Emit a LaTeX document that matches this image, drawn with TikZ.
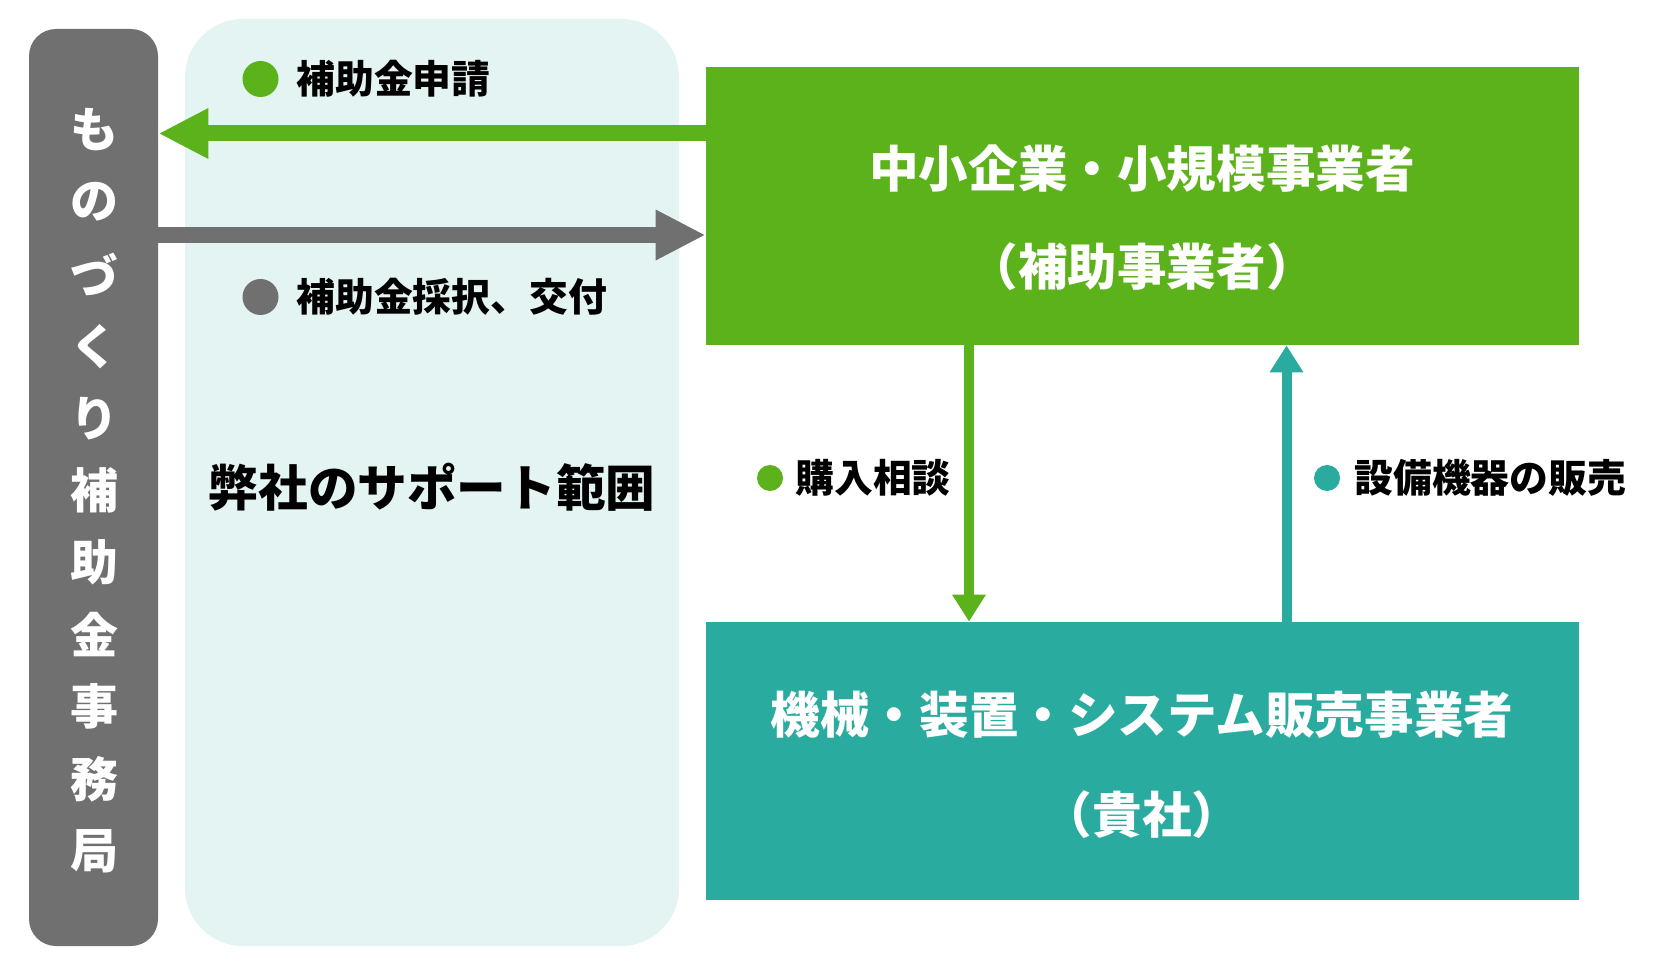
\documentclass[tikz,border=0pt]{standalone}
\usepackage{fontspec}
\setmainfont{Noto Sans CJK JP}
\usepackage{xcolor}
\usepackage{tikz}
\usetikzlibrary{positioning,arrows.meta}
\definecolor{subgreen}{RGB}{92, 178, 26}
\definecolor{sellteal}{RGB}{42, 171, 159}
\definecolor{officegray}{RGB}{112, 112, 112}
\definecolor{supportbg}{RGB}{228, 244, 243}

\begin{document}
\begin{tikzpicture}[x=0.5pt, y=-0.5pt, font=\bfseries,
  bigtext/.style={font=\fontsize{24.8pt}{30pt}\selectfont\bfseries},
  smalltext/.style={font=\fontsize{19.4pt}{24pt}\selectfont\bfseries, anchor=west, inner sep=0pt}]
\useasboundingbox[fill=white] (0,0) rectangle (1674,967);

\node[fill=supportbg, rounded corners=29pt, minimum width=247pt, minimum height=463.5pt, inner sep=0pt] (support) at (432,482.5) {};
\node[fill=officegray, rounded corners=13.5pt, minimum width=64.5pt, minimum height=458.5pt, inner sep=0pt] (office) at (93.5,487.5) {};
\node[fill=subgreen, minimum width=436.5pt, minimum height=139pt, inner sep=0pt] (grn) at (1142.5,206) {};
\node[fill=sellteal, minimum width=436.5pt, minimum height=139pt, inner sep=0pt] (seller) at (1142.5,761) {};

% vertical office name
\foreach \ch [count=\i from 0] in {も,の,づ,く,り,補,助,金,事,務,局}
  \node[text=white, font=\fontsize{24pt}{28pt}\selectfont\bfseries] (v\i) at (94,130+72.1*\i) {\ch};

\node[bigtext] (scope) at (432,487) {弊社のサポート範囲};
\node[bigtext, text=white] (g1) at (1142,169) {中小企業・小規模事業者};
\node[bigtext, text=white] (g2) at (1142,267) {（補助事業者）};
\node[bigtext, text=white] (t1) at (1142,715) {機械・装置・システム販売事業者};
\node[bigtext, text=white] (t2) at (1142,815) {（貴社）};

% arrows between office and applicant
\draw[subgreen, line width=8pt, -{Triangle[length=25pt, width=23.5pt]}] (grn.west |- 0,133.5) -- (office.east |- 0,133.5);
\draw[officegray, line width=8pt, -{Triangle[length=25pt, width=23.5pt]}] (office.east |- 0,235) -- (grn.west |- 0,235);
\draw[subgreen, line width=5pt, -{Triangle[length=13.5pt, width=16pt]}] (grn.south -| 969,0) -- (seller.north -| 969,0);
\draw[sellteal, line width=5pt, -{Triangle[length=13.5pt, width=16pt]}] (seller.north -| 1286.5,0) -- (grn.south -| 1286.5,0);

% labels
\fill[subgreen] (260.5,79) circle (9pt);
\node[smalltext] (apply) at (296,79) {補助金申請};
\fill[officegray] (260.5,297) circle (9pt);
\node[smalltext] (grant) at (296,297) {補助金採択、交付};
\fill[subgreen] (770,478) circle (6.5pt);
\node[smalltext] (consult) at (795,478) {購入相談};
\fill[sellteal] (1327,478) circle (6.5pt);
\node[smalltext] (sales) at (1354,478) {設備機器の販売};
\end{tikzpicture}
\end{document}
